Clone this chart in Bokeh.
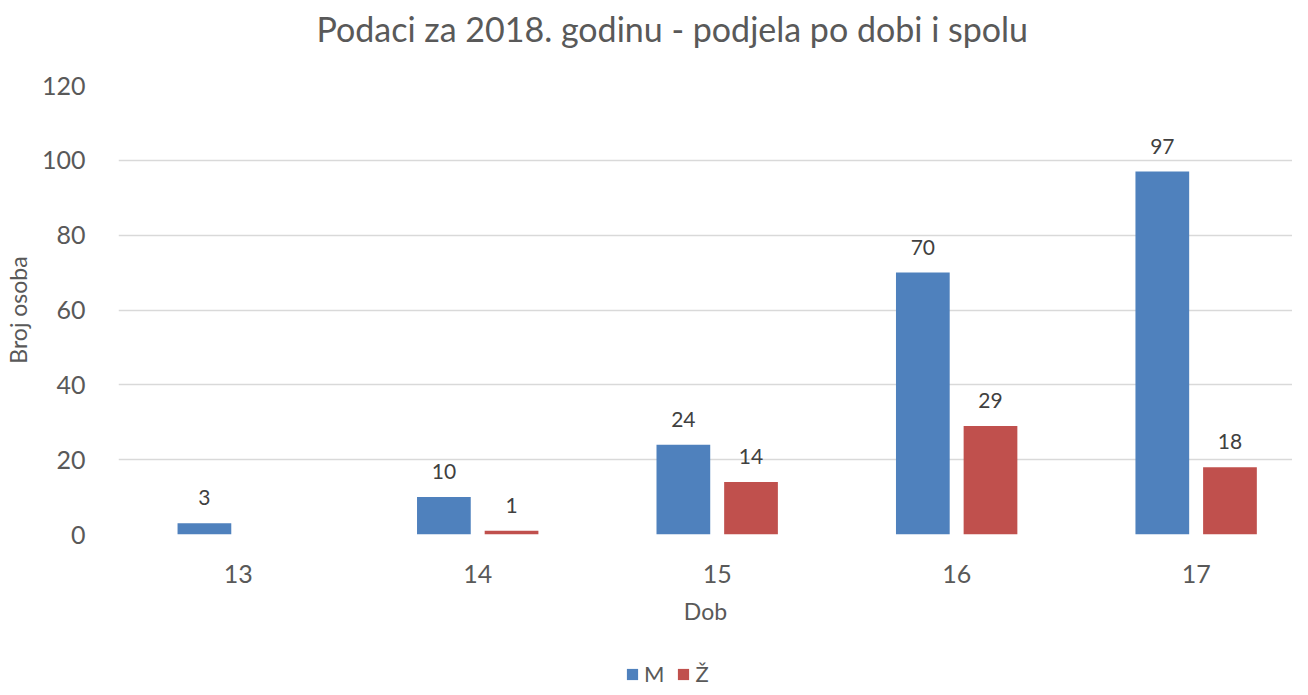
from bokeh.plotting import figure
from bokeh.layouts import column
from bokeh.models import (Range1d, ColumnDataSource, FixedTicker, Legend, LegendItem, LabelSet, Title)
from bokeh.core.properties import value
from bokeh.embed import file_html
from bokeh.resources import INLINE

# ---- data ----
ages = ["13", "14", "15", "16", "17"]
male = [3, 10, 24, 70, 97]
female = [0, 1, 14, 29, 18]
y_ticks = [0, 20, 40, 60, 80, 100, 120]
title_text = "Podaci za 2018. godinu - podjela po dobi i spolu"
x_title = "Dob"
y_title = "Broj osoba"
series_names = ["M", "Ž"]

FONT = "Lato"
BLUE = "#4F81BD"
RED = "#C0504D"
GREY = "#595959"
COLORS = [BLUE, RED]

W = 1292
H_MAIN, H_LEG = 643, 44
PX_PER_CAT = 240.7
p = figure(width=W, height=H_MAIN, output_backend="svg", toolbar_location=None,
           x_range=Range1d(-0.5, -0.5 + 1180 / PX_PER_CAT), y_range=Range1d(0, 120),
           min_border_left=112, min_border_right=0, min_border_top=85,
           min_border_bottom=H_MAIN - 534)
p.outline_line_color = None
p.background_fill_color = "white"
p.border_fill_color = "white"

xs = list(range(len(ages)))
off = 34 / PX_PER_CAT
bw = 54 / PX_PER_CAT
src_m = ColumnDataSource(dict(x=[x - off for x in xs], top=male))
src_f = ColumnDataSource(dict(x=[x + off for x in xs], top=female))
sources = [src_m, src_f]

for src, col in zip(sources, COLORS):
    p.vbar(x="x", top="top", width=bw, bottom=0, source=src, fill_color=col, line_color=None)

# data labels (skip zero values)
lab_m = ColumnDataSource(dict(x=[x - off for x, v in zip(xs, male) if v], y=[v for v in male if v],
                              t=[str(v) for v in male if v]))
lab_f = ColumnDataSource(dict(x=[x + off for x, v in zip(xs, female) if v], y=[v for v in female if v],
                              t=[str(v) for v in female if v]))
for s in (lab_m, lab_f):
    p.add_layout(LabelSet(x="x", y="y", text="t", source=s, text_align="center",
                          text_baseline="alphabetic", y_offset=18, text_font=value(FONT),
                          text_font_size="21px", text_color="#404040"))

# axes
p.xaxis.ticker = FixedTicker(ticks=xs)
p.xaxis.major_label_overrides = {i: a for i, a in enumerate(ages)}
p.yaxis.ticker = FixedTicker(ticks=y_ticks)
for ax in (p.xaxis, p.yaxis):
    ax.axis_line_color = None
    ax.major_tick_line_color = None
    ax.minor_tick_line_color = None
    ax.major_label_text_font = FONT
    ax.major_label_text_color = GREY
    ax.major_label_text_font_size = "25px"
    ax.axis_label_text_font = FONT
    ax.axis_label_text_font_style = "normal"
    ax.axis_label_text_color = GREY
    ax.axis_label_text_font_size = "23px"
p.xaxis.axis_label = x_title
p.yaxis.axis_label = y_title
p.xaxis.major_label_standoff = 24
p.yaxis.major_label_standoff = 27
p.xaxis.axis_label_standoff = 11
p.yaxis.axis_label_standoff = 7

p.xgrid.grid_line_color = None
p.ygrid.ticker = FixedTicker(ticks=y_ticks)
p.ygrid.grid_line_color = "#D9D9D9"
p.ygrid.grid_line_width = 1.5

# spacer between frame and title (title is stacked outside it)
p.add_layout(Title(text=" ", text_font_size="2px", standoff=32), "above")
p.title.text = title_text
p.title.align = "left"
p.title.offset = 198
p.title.vertical_align = "middle"
p.title.standoff = 0
p.title.text_font = FONT
p.title.text_font_size = "34px"
p.title.text_font_style = "normal"
p.title.text_color = GREY

# ---- legend strip below the chart ----
pl = figure(width=W, height=H_LEG, output_backend="svg", toolbar_location=None,
            x_range=Range1d(0, 1), y_range=Range1d(0, 1),
            x_axis_location=None, y_axis_location=None,
            min_border_left=0, min_border_right=0, min_border_top=0, min_border_bottom=0)
pl.outline_line_color = None
pl.grid.grid_line_color = None
pl.border_fill_color = "white"
items = []
for name, src, col in zip(series_names, sources, COLORS):
    r = pl.vbar(x="x", top="top", width=bw, bottom=0, source=src, fill_color=col,
                line_color=None, visible=False)
    items.append(LegendItem(label=name, renderers=[r]))
legend = Legend(items=items, orientation="horizontal", location=(507, 0),
                border_line_color=None, background_fill_alpha=0, padding=0, margin=0,
                spacing=12, glyph_width=14, glyph_height=14, label_standoff=5,
                inactive_fill_alpha=0,
                label_text_font=FONT, label_text_font_size="22px", label_text_color=GREY)
pl.add_layout(legend)

layout = column(p, pl, spacing=0)
open("out.html", "w").write(file_html(layout, INLINE))
